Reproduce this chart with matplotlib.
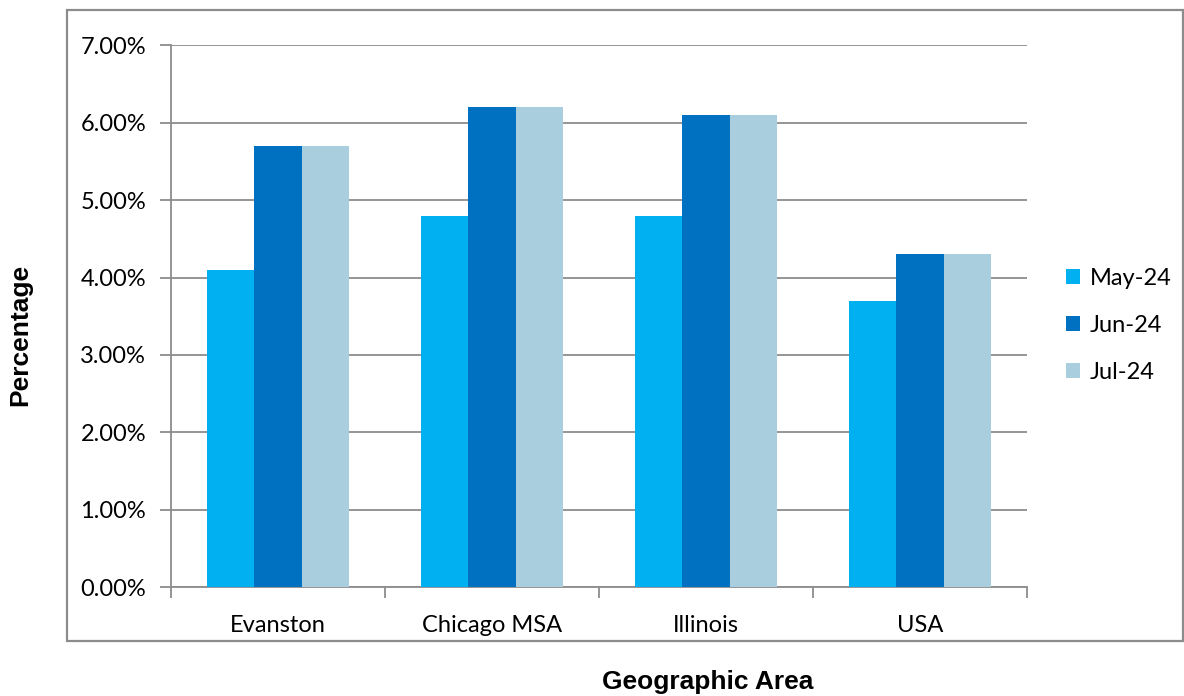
import matplotlib
matplotlib.use("Agg")
import matplotlib.pyplot as plt
import numpy as np
from matplotlib.patches import Rectangle
from matplotlib.ticker import PercentFormatter

areas = ["Evanston", "Chicago MSA", "Illinois", "USA"]
months = ["May-24", "Jun-24", "Jul-24"]
may_24 = [4.1, 4.8, 4.8, 3.7]
jun_24 = [5.7, 6.2, 6.1, 4.3]
jul_24 = [5.7, 6.2, 6.1, 4.3]
y_ticks = [0, 1, 2, 3, 4, 5, 6, 7]

colors = ["#00B0F0", "#0070C0", "#A9CFDE"]
grid_gray = "#8C8C8C"
tick_font = "Lato"
tick_size = 17

W, H = 1184, 696
fig = plt.figure(figsize=(W / 100, H / 100), dpi=100)
ax = fig.add_axes([171 / W, 1 - 587 / H, (1027 - 171) / W, (587 - 45.5) / H])

# outer chart border
fig.patches.append(Rectangle((67 / W, 1 - 641 / H), (1183 - 67) / W, (641 - 10) / H,
                             transform=fig.transFigure, fill=False,
                             edgecolor=grid_gray, linewidth=1.6))

x = np.arange(len(areas))
bar_w = 1 / 4.5  # excel gap width 150%
for i, (series, label) in enumerate(zip([may_24, jun_24, jul_24], months)):
    ax.bar(x + (i - 1) * bar_w, series, width=bar_w, color=colors[i],
           label=label, zorder=3)

ax.set_xlim(-0.5, len(areas) - 0.5)
ax.set_ylim(0, 7)
ax.set_yticks(y_ticks)
ax.yaxis.set_major_formatter(PercentFormatter(decimals=2))
ax.grid(axis="y", color=grid_gray, linewidth=1.3, zorder=0)

# category boundaries get tick marks, labels sit in between
ax.set_xticks(np.arange(len(areas) + 1) - 0.5)
ax.set_xticklabels([])
ax.set_xticks(x, minor=True)
ax.set_xticklabels(areas, minor=True)
ax.tick_params(axis="x", which="major", length=8, width=1.3, color=grid_gray)
ax.tick_params(axis="x", which="minor", length=0, pad=20, labelsize=tick_size)
ax.tick_params(axis="y", length=8, width=1.3, color=grid_gray, pad=10, labelsize=tick_size)
for lbl in ax.get_xticklabels(minor=True) + ax.get_yticklabels():
    lbl.set_fontfamily(tick_font)

for side in ["top", "right"]:
    ax.spines[side].set_visible(False)
for side in ["left", "bottom"]:
    ax.spines[side].set_color(grid_gray)
    ax.spines[side].set_linewidth(1.3)

fig.text(20 / W, 1 - 335 / H, "Percentage", rotation=90, ha="center", va="center",
         fontsize=19, fontweight="bold", family="Liberation Sans")
fig.text(708 / W, 1 - 682 / H, "Geographic Area", ha="center", va="center",
         fontsize=19, fontweight="bold", family="Liberation Sans")

leg = ax.legend(loc="center left", bbox_to_anchor=(1.021, 0.483), frameon=False,
                prop={"family": tick_font, "size": tick_size}, handlelength=0.6,
                handleheight=0.6, handletextpad=0.4, labelspacing=1.1)

fig.savefig("out.png", dpi=100)
